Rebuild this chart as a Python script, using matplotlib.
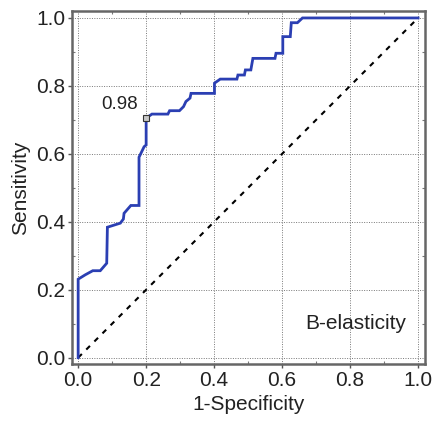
import matplotlib
matplotlib.use("Agg")
import matplotlib.pyplot as plt
from matplotlib.ticker import MultipleLocator, FormatStrFormatter

# ROC curve vertices (1-specificity, sensitivity)
fpr = [0.0, 0.0, 0.021, 0.043, 0.065, 0.084, 0.086, 0.124, 0.133, 0.135, 0.155,
       0.179, 0.179, 0.194, 0.2, 0.2, 0.217, 0.264, 0.269, 0.298, 0.31, 0.317,
       0.329, 0.332, 0.401, 0.401, 0.418, 0.467, 0.47, 0.489, 0.492, 0.508,
       0.514, 0.579, 0.582, 0.602, 0.602, 0.624, 0.627, 0.645, 0.66, 1.0]
tpr = [0.0, 0.231, 0.244, 0.256, 0.256, 0.278, 0.384, 0.396, 0.408, 0.425, 0.448,
       0.448, 0.59, 0.621, 0.626, 0.705, 0.717, 0.717, 0.727, 0.727, 0.739, 0.754,
       0.764, 0.778, 0.778, 0.808, 0.82, 0.82, 0.832, 0.832, 0.847, 0.847,
       0.881, 0.881, 0.896, 0.896, 0.945, 0.945, 0.986, 0.986, 1.0, 1.0]
cut_x, cut_y, cut_label = 0.2, 0.705, "0.98"
panel_label = "B-elasticity"

plt.rcParams["font.family"] = ["Liberation Sans", "DejaVu Sans"]

fig = plt.figure(figsize=(4.34, 4.29), dpi=100)
ax = fig.add_axes([0.166, 0.152, 0.813, 0.822])

ax.plot([0, 1], [0, 1], color="black", linestyle=(0, (2.5, 3)), linewidth=1.5)
ax.plot(fpr, tpr, color="#2b3fb3", linewidth=2.0, solid_joinstyle="miter")
ax.plot(cut_x, cut_y, marker="s", markersize=4.5, markerfacecolor="#c8c8c8",
        markeredgecolor="#333333", markeredgewidth=0.8, linestyle="None")
ax.text(cut_x - 0.025, cut_y + 0.04, cut_label, fontsize=13.5, ha="right", va="center",
        color="#222222")
ax.text(0.817, 0.102, panel_label, fontsize=15, ha="center", va="center", color="#222222")

ax.set_xlim(-0.018, 1.02)
ax.set_ylim(-0.018, 1.02)
ax.xaxis.set_major_locator(MultipleLocator(0.2))
ax.yaxis.set_major_locator(MultipleLocator(0.2))
ax.xaxis.set_minor_locator(MultipleLocator(0.1))
ax.yaxis.set_minor_locator(MultipleLocator(0.1))
ax.xaxis.set_major_formatter(FormatStrFormatter("%.1f"))
ax.yaxis.set_major_formatter(FormatStrFormatter("%.1f"))
ax.tick_params(which="major", direction="out", length=3, width=1, labelsize=15,
               colors="#555555", labelcolor="#222222", pad=2)
ax.tick_params(which="minor", direction="in", length=2.5, width=0.8, colors="#777777",
               top=True, right=True)
ax.grid(True, which="major", linestyle=(0, (1, 1.5)), color="#777777", linewidth=0.7)

for s in ax.spines.values():
    s.set_linewidth(1.8)
    s.set_color("#666666")

ax.set_xlabel("1-Specificity", fontsize=15, color="#222222", labelpad=4)
ax.set_ylabel("Sensitivity", fontsize=15, color="#222222", labelpad=4)

fig.savefig("out.png", dpi=100)
